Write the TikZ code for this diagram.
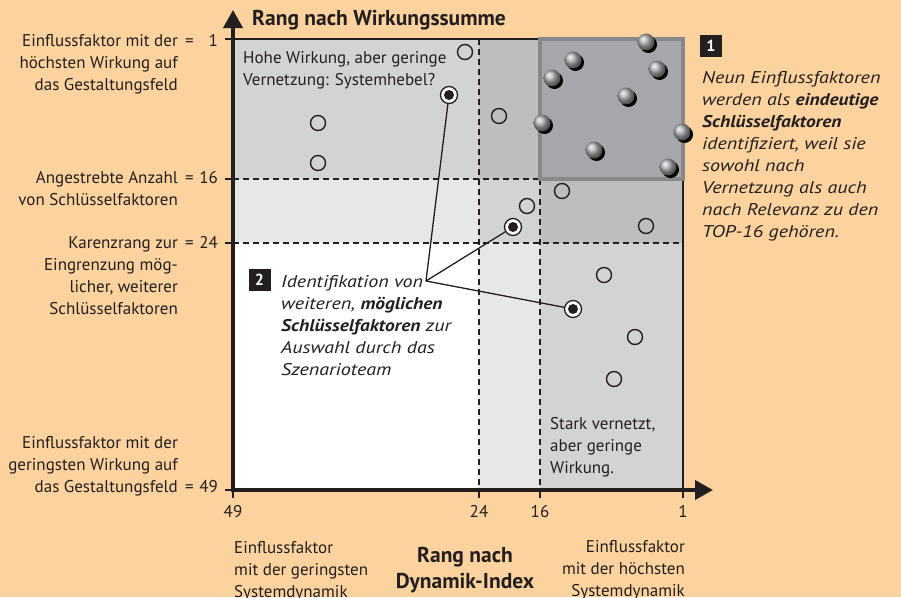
\documentclass[tikz,border=0pt]{standalone}
\usepackage{fontspec}
\setmainfont{PT Sans}
\newfontfamily\annfont{PT Sans}[ItalicFeatures={FakeStretch=1.18}, BoldItalicFeatures={FakeStretch=1.14}]
\usetikzlibrary{arrows.meta}
\definecolor{bg}{RGB}{252,210,158}
\definecolor{ink}{RGB}{35,31,32}
\definecolor{lone}{RGB}{230,231,232}
\definecolor{ltwo}{RGB}{210,211,213}
\definecolor{lthree}{RGB}{189,190,192}
\definecolor{lfour}{RGB}{166,167,170}
\definecolor{boxrim}{RGB}{135,136,138}
\definecolor{ballgray}{RGB}{175,175,178}
\begin{document}
\begin{tikzpicture}[x=1pt,y=-1pt,
  txt/.style={inner sep=0pt, text=ink, font=\fontsize{17}{22}\selectfont},
  bigtxt/.style={inner sep=0pt, text=ink, font=\fontsize{21.5}{26}\selectfont\bfseries},
  itx/.style={inner sep=0pt, text=ink, font=\annfont\fontsize{17}{22}\selectfont\itshape},
  dashline/.style={ink, line width=1.3pt, dash pattern=on 6pt off 4pt},
  thinline/.style={ink, line width=1.4pt},
  axisline/.style={ink, line width=3.8pt, -{Triangle[length=18pt,width=19pt]}},
  opencirc/.style={circle, draw=ink, line width=1.4pt, minimum size=15pt, inner sep=0pt},
  target/.style={circle, draw=ink, fill=white, line width=1.3pt, minimum size=17pt, inner sep=0pt},
  conn/.style={ink, line width=1.3pt},
  numbox/.style={fill=ink, text=white, font=\fontsize{16}{16}\selectfont\bfseries, minimum width=22pt, minimum height=22pt, inner sep=0pt}
]
\useasboundingbox (0,0) rectangle (901,597);
\fill[bg] (0,0) rectangle (901,597);
% region fills
\fill[ltwo]   (233,39) rectangle (479,179);
\fill[lthree] (479,39) rectangle (540,179);
\fill[lfour]  (540,39) rectangle (683,179);
\fill[lone]   (233,179) rectangle (479,243);
\fill[ltwo]   (479,179) rectangle (540,243);
\fill[lthree] (540,179) rectangle (683,243);
\fill[white]  (233,243) rectangle (479,490);
\fill[lone]   (479,243) rectangle (540,490);
\fill[ltwo]   (540,243) rectangle (683,490);
% dashed grid
\draw[dashline] (233,179) -- (540,179);
\draw[dashline] (233,243) -- (683,243);
\draw[dashline] (479,39) -- (479,490);
\draw[dashline] (540,179) -- (540,490);
% borders
\draw[thinline] (233,39) -- (540,39);
\draw[thinline] (683,179) -- (683,498);
% key box
\draw[boxrim, line width=4pt] (540,39) rectangle (683,179);
% ticks
\foreach \yy in {39,179,243,490} \draw[thinline] (225,\yy) -- (233,\yy);
\foreach \xx in {233,479,540} \draw[thinline] (\xx,490) -- (\xx,498);
% axes
\coordinate (yfoot) at (233,492);
\coordinate (ytip) at (233,10);
\coordinate (xfoot) at (231,490);
\coordinate (xtip) at (713,490);
\draw[axisline] (yfoot) -- (ytip);
\draw[axisline] (xfoot) -- (xtip);
% text in plot (base = baseline of last line)
\node[txt, anchor=base west, align=left] (hohe) at (243,85) {Hohe Wirkung, aber geringe\\Vernetzung: Systemhebel?};
\node[txt, anchor=base west, align=left] (stark) at (550,473) {Stark vernetzt,\\aber geringe\\Wirkung.};
% open circles
\foreach \p [count=\i] in {(465,52),(318,123),(318,163),(499,116),(562,191),(527,206),(646,226),(604,275),(635,337),(614,379)}
  \node[opencirc] (oc\i) at \p {};
% balls
\foreach \bx/\by in {646/42,573/60,657/69,552/78,626/96,542/123,682/132,594/150,668/167} {
  \fill[black] (\bx+2.5,\by+2.5) circle (8.5pt);
  \shade[ball color=ballgray] (\bx,\by) circle (8.5pt);
}
% targets
\node[target] (t1) at (449,95) {};
\node[target] (t2) at (513,227) {};
\node[target] (t3) at (573,309) {};
\foreach \t in {t1,t2,t3} \fill[ink] (\t.center) circle (5pt);
% annotation 2
\node[numbox] (n2) at (259.5,280) {2};
\node[itx, anchor=base west, align=left] (ann2) at (281,375) {Identifikation von\\weiteren, \textbf{möglichen}\\\textbf{Schlüsselfaktoren} zur\\Auswahl durch das\\Szenarioteam};
\coordinate (hub) at (426,281);
\draw[conn] (hub) -- (t1);
\draw[conn] (hub) -- (t2);
\draw[conn] (hub) -- (t3);
% annotation 1
\node[numbox] (n1) at (711,45.5) {1};
\node[itx, anchor=base west, align=left] (ann1) at (702,237) {Neun Einflussfaktoren\\werden als \textbf{eindeutige}\\\textbf{Schlüsselfaktoren}\\identifiziert, weil sie\\sowohl nach\\Vernetzung als auch\\nach Relevanz zu den\\TOP-16 gehören.};
% axis titles
\node[bigtxt, anchor=base west] (ytitle) at (252,25) {Rang nach Wirkungssumme};
\node[bigtxt, anchor=base, align=center] (xtitle) at (465,588) {Rang nach\\Dynamik-Index};
% left labels
\node[txt, anchor=base east, align=right] (la) at (178,90) {Einflussfaktor mit der\\höchsten Wirkung auf\\das Gestaltungsfeld};
\node[txt, anchor=base east, align=right] (lb) at (178,205) {Angestrebte Anzahl\\von Schlüsselfaktoren};
\node[txt, anchor=base east, align=right] (lc) at (178,314) {Karenzrang zur\\Eingrenzung mög-\\licher, weiterer\\Schlüsselfaktoren};
\node[txt, anchor=base east, align=right] (ld) at (178,492) {Einflussfaktor mit der\\geringsten Wirkung auf\\das Gestaltungsfeld};
\foreach \yy/\nn/\lbl in {46/1/qa,183/16/qb,248/24/qc,492/49/qd} {
  \node[txt, anchor=base west] (eq\lbl) at (185,\yy) {=};
  \node[txt, anchor=base east] (num\lbl) at (218,\yy) {\nn};
}
% bottom tick labels
\node[txt, anchor=base] (b49) at (233,517) {49};
\node[txt, anchor=base] (b24) at (479,517) {24};
\node[txt, anchor=base] (b16) at (540,517) {16};
\node[txt, anchor=base] (b1) at (683,517) {1};
% bottom descriptions
\node[txt, anchor=base west, align=left] (bl) at (234,597) {Einflussfaktor\\mit der geringsten\\Systemdynamik};
\node[txt, anchor=base east, align=right] (br) at (685,596) {Einflussfaktor\\mit der höchsten\\Systemdynamik};
\end{tikzpicture}
\end{document}
